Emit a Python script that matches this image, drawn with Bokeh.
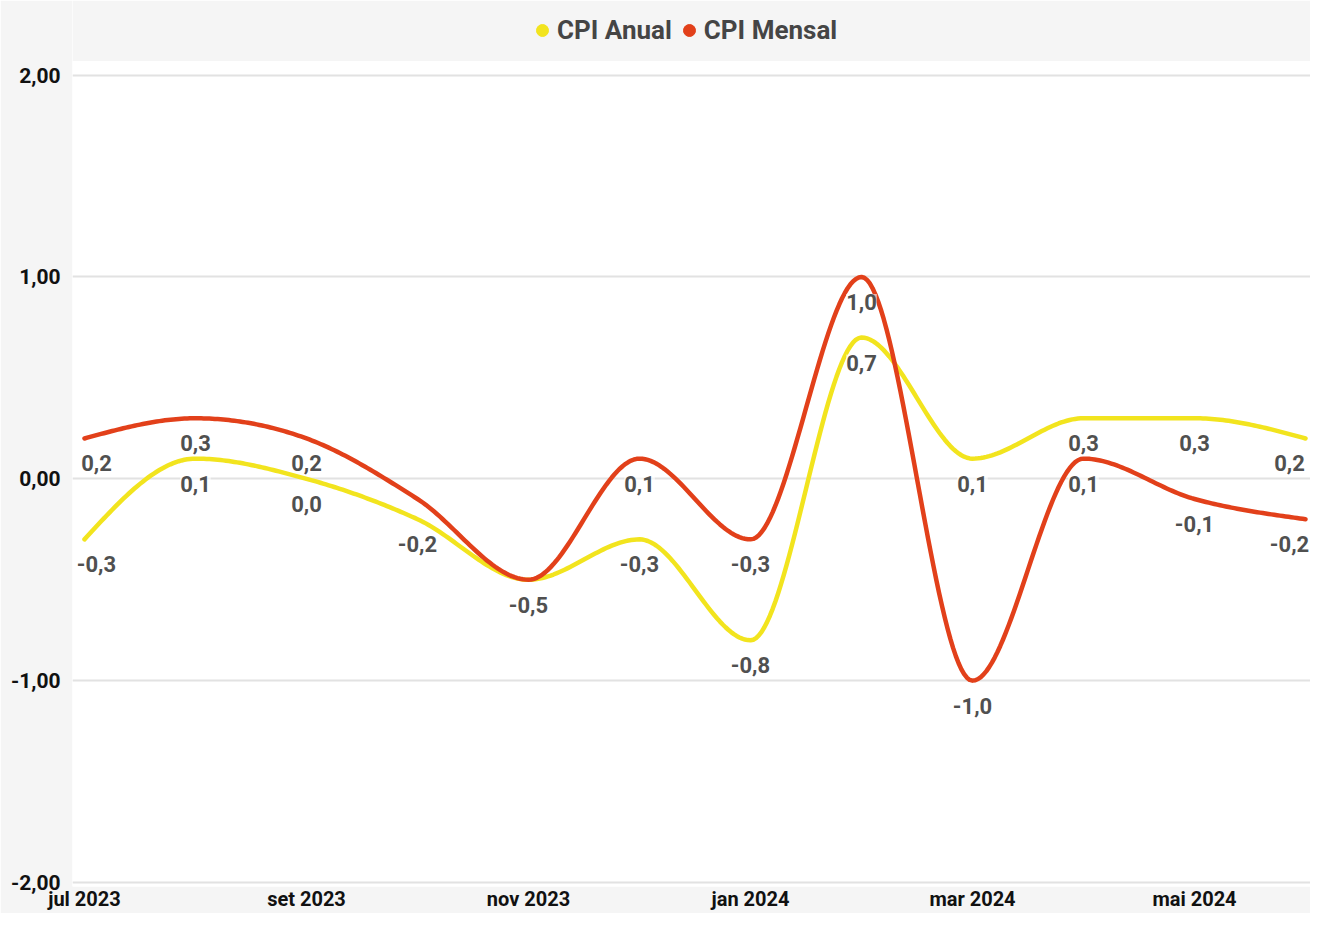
import numpy as np
from bokeh.plotting import figure
from bokeh.models import (ColumnDataSource, FixedTicker, Legend, LegendItem, Range1d,
                          BoxAnnotation)
from bokeh.core.properties import value
from bokeh.embed import file_html
from bokeh.resources import INLINE

# ---- data ----
months = ["jul 2023", "ago 2023", "set 2023", "out 2023", "nov 2023", "dez 2023",
          "jan 2024", "fev 2024", "mar 2024", "abr 2024", "mai 2024", "jun 2024"]
cpi_anual = [-0.3, 0.1, 0.0, -0.2, -0.5, -0.3, -0.8, 0.7, 0.1, 0.3, 0.3, 0.2]
cpi_mensal = [0.2, 0.3, 0.2, -0.1, -0.5, 0.1, -0.3, 1.0, -1.0, 0.1, -0.1, -0.2]
anual_label_shown = [True] * 12
mensal_label_shown = [True, True, True, False, False, True, True, True, True, True, True, True]
x_tick_positions = [0, 2, 4, 6, 8, 10]
y_ticks = [-2, -1, 0, 1, 2]
y_tick_labels = ["-2,00", "-1,00", "0,00", "1,00", "2,00"]

YELLOW = "#f2e41e"
RED = "#e2401a"
BORDER = "#f5f5f5"
FONT = "Roboto"


def monotone_x(xs, ys, n=40):
    """d3 curveMonotoneX rendering of a polyline."""
    xs = np.asarray(xs, float)
    ys = np.asarray(ys, float)
    h = np.diff(xs)
    s = np.diff(ys) / h
    m = len(xs)
    t = np.zeros(m)
    for i in range(1, m - 1):
        s0, s1 = s[i - 1], s[i]
        p = (s0 * h[i] + s1 * h[i - 1]) / (h[i - 1] + h[i])
        t[i] = (np.sign(s0) + np.sign(s1)) * min(abs(s0), abs(s1), 0.5 * abs(p))
    t[0] = (3 * s[0] - t[1]) / 2
    t[-1] = (3 * s[-1] - t[-2]) / 2
    ox, oy = [], []
    for i in range(m - 1):
        u = np.linspace(0, 1, n, endpoint=(i == m - 2))
        h00 = 2 * u**3 - 3 * u**2 + 1
        h10 = u**3 - 2 * u**2 + u
        h01 = -2 * u**3 + 3 * u**2
        h11 = u**3 - u**2
        ox.extend(xs[i] + u * h[i])
        oy.extend(h00 * ys[i] + h10 * h[i] * t[i] + h01 * ys[i + 1] + h11 * h[i] * t[i + 1])
    return ox, oy


x = list(range(len(months)))

p = figure(width=1310, height=913, output_backend="svg", toolbar_location=None,
           x_range=Range1d(-0.108, 11.045), y_range=Range1d(-2.02, 2.37),
           min_border_left=72, min_border_right=0, min_border_top=0, min_border_bottom=0)
p.background_fill_color = "white"
p.border_fill_color = BORDER
p.outline_line_color = None

# grey header band above the plotting area (holds the legend)
p.add_layout(BoxAnnotation(bottom=2.07, fill_color=BORDER, fill_alpha=1.0,
                           line_color=None, level="underlay"))

# smooth lines
ax, ay = monotone_x(x, cpi_anual)
mx, my = monotone_x(x, cpi_mensal)
p.line(ax, ay, line_color=YELLOW, line_width=4.5, line_cap="round", line_join="round")
p.line(mx, my, line_color=RED, line_width=4.5, line_cap="round", line_join="round")

# data labels
def fmt(v):
    return f"{v:.1f}".replace(".", ",")

lx, ly, lt, lo = [], [], [], []
last = len(x) - 1
for vals, shown in ((cpi_anual, anual_label_shown), (cpi_mensal, mensal_label_shown)):
    for xi, v, s in zip(x, vals, shown):
        if s:
            lx.append(xi); ly.append(v); lt.append(fmt(v))
            lo.append(12 if xi == 0 else (-16 if xi == last else 0))
lsrc = ColumnDataSource(dict(x=lx, y=ly, t=lt, xo=lo))
p.text(x="x", y="y", text="t", source=lsrc, x_offset="xo", y_offset=25,
       text_align="center", text_baseline="middle",
       text_font=value(FONT), text_font_size="22px", text_font_style="bold",
       text_color="#505050",
       background_fill_color="white", background_fill_alpha=0.6)

# legend (dummy circle renderers with no visible data)
r1 = p.scatter([np.nan], [np.nan], marker="circle", size=13, fill_color=YELLOW, line_color=YELLOW)
r2 = p.scatter([np.nan], [np.nan], marker="circle", size=13, fill_color=RED, line_color=RED)
legend = Legend(items=[LegendItem(label="CPI Anual", renderers=[r1]),
                       LegendItem(label="CPI Mensal", renderers=[r2])],
                orientation="horizontal", location=(455, 841),
                label_text_font=FONT, label_text_font_size="26px",
                label_text_font_style="bold", label_text_color="#454545",
                glyph_width=30, glyph_height=30, label_standoff=-11, spacing=2,
                padding=0, margin=0, border_line_color=None,
                background_fill_alpha=0)
p.add_layout(legend)

# axes
p.xaxis.ticker = FixedTicker(ticks=x_tick_positions)
p.xaxis.major_label_overrides = {i: months[i] for i in x_tick_positions}
p.yaxis.ticker = FixedTicker(ticks=y_ticks)
p.yaxis.major_label_overrides = {t: l for t, l in zip(y_ticks, y_tick_labels)}
for ax_ in (p.xaxis, p.yaxis):
    ax_.axis_line_color = None
    ax_.major_tick_line_color = None
    ax_.minor_tick_line_color = None
    ax_.major_tick_out = 0
    ax_.major_tick_in = 0
    ax_.minor_tick_out = 0
    ax_.minor_tick_in = 0
    ax_.major_label_text_font = FONT
    ax_.major_label_text_font_style = "bold"
    ax_.major_label_text_color = "#111111"
    ax_.major_label_text_font_size = "21px"
p.xaxis.major_label_text_font_size = "20px"
p.xaxis.major_label_standoff = 0
p.yaxis.major_label_standoff = 12

p.xgrid.grid_line_color = None
p.ygrid.ticker = FixedTicker(ticks=y_ticks)
p.ygrid.grid_line_color = "#e2e2e2"
p.ygrid.grid_line_width = 2

open("out.html", "w").write(file_html(p, INLINE))
